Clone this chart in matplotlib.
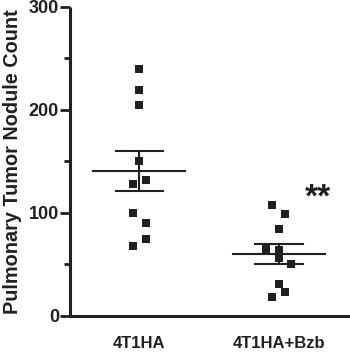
import matplotlib
matplotlib.use("Agg")
import matplotlib.pyplot as plt
import numpy as np

plt.rcParams['font.family'] = ['Liberation Sans', 'DejaVu Sans']

groups = ["4T1HA", "4T1HA+Bzb"]
g1_values = [240, 219, 205, 150, 132, 128, 100, 90, 74, 68]
g1_jitter = [0.0, 0.0, 0.0, 0.0, 0.045, -0.045, -0.045, 0.045, 0.045, -0.045]
g2_values = [107, 99, 84, 65, 64, 56, 50, 31, 23, 18]
g2_jitter = [-0.05, 0.045, 0.0, -0.09, 0.0, 0.0, 0.09, 0.0, 0.045, -0.05]
yticks = [0, 100, 200, 300]
significance = "**"

col = "#231f20"
fig = plt.figure(figsize=(3.5, 3.53), dpi=100)
ax = fig.add_axes([0.1986, 0.1062, 0.8014, 0.874])

for i, (vals, jit) in enumerate([(g1_values, g1_jitter), (g2_values, g2_jitter)]):
    xc = i + 1
    v = np.array(vals, dtype=float)
    ax.scatter(xc + np.array(jit), v, marker='s', s=30, color=col, zorder=3, linewidths=0)
    m = v.mean()
    sem = v.std(ddof=1) / np.sqrt(len(v))
    ax.plot([xc - 0.33, xc + 0.33], [m, m], color=col, lw=1.5, zorder=2)
    ax.plot([xc - 0.17, xc + 0.17], [m + sem, m + sem], color=col, lw=1.5, zorder=2)
    ax.plot([xc - 0.17, xc + 0.17], [m - sem, m - sem], color=col, lw=1.5, zorder=2)
    ax.plot([xc, xc], [m - sem, m + sem], color=col, lw=1.5, zorder=2)

ax.text(2.28, 114, significance, ha='center', va='center', fontsize=24, fontweight='bold', color=col)

ax.set_xlim(0.5, 2.51)
ax.set_ylim(0, 300)
ax.set_yticks(yticks)
ax.set_yticks([50, 150, 250], minor=True)
ax.set_xticks([1, 2])
ax.set_xticklabels(groups, fontsize=12, fontweight='bold', color=col)
ax.tick_params(axis='x', length=0, pad=15)
ax.tick_params(axis='y', which='major', length=7, width=2, pad=0.5, labelsize=13, colors=col)
ax.tick_params(axis='y', which='minor', length=4, width=2, colors=col)
for lbl in ax.get_yticklabels():
    lbl.set_fontweight('bold')
ax.spines['top'].set_visible(False)
ax.spines['right'].set_visible(False)
ax.spines['left'].set_linewidth(2.2)
ax.spines['bottom'].set_linewidth(2.2)
ax.spines['left'].set_color(col)
ax.spines['bottom'].set_color(col)
ax.spines['left'].set_capstyle('butt')
ax.set_ylabel("Pulmonary Tumor Nodule Count", fontsize=14.3, fontweight='bold', color=col)
ax.yaxis.set_label_coords(-0.17, 0.5)

fig.savefig("out.png", dpi=100)
